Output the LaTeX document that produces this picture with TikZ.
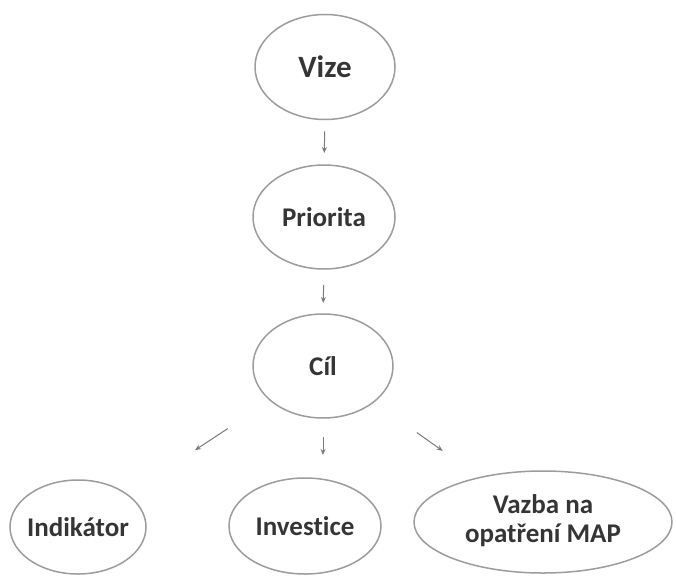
\documentclass[tikz,border=0pt]{standalone}
\usepackage{fontspec}
\setmainfont{Carlito}[Ligatures={NoCommon}]
\usetikzlibrary{shapes.geometric,arrows.meta}
\definecolor{edgegray}{HTML}{9C9C9C}
\definecolor{txtgray}{HTML}{353535}
\definecolor{arrgray}{HTML}{7A7A7A}
\tikzset{
  bubble/.style={ellipse, draw=edgegray, line width=1.5pt, inner sep=0pt, outer sep=0pt,
    text=txtgray, font=\bfseries\fontsize{27}{31}\selectfont},
  arr/.style={draw=arrgray, line width=1pt, -{Stealth[length=6pt,width=5pt]}}
}
\newcommand{\zw}[1]{\makebox[0pt][c]{#1}}
\begin{document}
\begin{tikzpicture}[x=1pt,y=-1pt]
\useasboundingbox (0,0) rectangle (676,575);
\node[bubble, minimum width=140pt, minimum height=105pt, font=\bfseries\fontsize{31}{36}\selectfont] (vize) at (325,67) {\zw{Vize}};
\node[bubble, minimum width=142pt, minimum height=104pt] (prio) at (324,217) {\zw{Priorita}};
\node[bubble, minimum width=140pt, minimum height=104pt] (cil) at (323,366) {\zw{Cíl}};
\node[bubble, minimum width=136pt, minimum height=94pt] (ind) at (78,527) {\zw{Indikátor}};
\node[bubble, minimum width=152pt, minimum height=96pt] (inv) at (305,526) {\zw{Investice}};
\node[bubble, minimum width=258pt, minimum height=102pt] (vaz) at (543,522) {\zw{\begin{tabular}{@{}c@{}}Vazba na\\[-2pt]opatření MAP\end{tabular}}};
\draw[arr, shorten <=12pt, shorten >=12pt] (vize.south) -- (prio.north);
\draw[arr, shorten <=16pt, shorten >=11pt] (prio.south) -- (cil.north);
\draw[arr, shorten <=19pt, shorten >=23pt] (cil.south) -- (cil.south |- inv.north);
\draw[arr, shorten <=114pt, shorten >=140pt] (cil.center) -- (ind.center);
\draw[arr, shorten <=115pt, shorten >=123pt] (cil.center) -- (vaz.center);
\end{tikzpicture}
\end{document}
